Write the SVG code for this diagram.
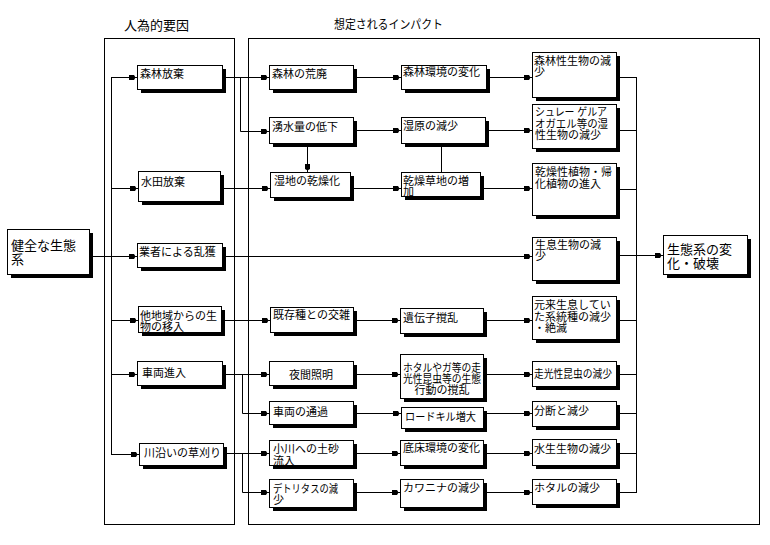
<svg xmlns="http://www.w3.org/2000/svg" width="770" height="545" viewBox="0 0 770 545">
<defs>
<marker id="ar" markerUnits="userSpaceOnUse" markerWidth="9" markerHeight="6" viewBox="0 0 9 6" refX="9" refY="3" orient="auto">
<path d="M1,0.5 H6 L7.5,3 L6,5.5 H1 Z" fill="#000"/>
</marker>
</defs>
<style>
.box{fill:#fff;stroke:#000;stroke-width:1}
.sh{fill:#000}
.pan{fill:none;stroke:#000;stroke-width:1}
.c{fill:none;stroke:#000;stroke-width:1}
.a{marker-end:url(#ar)}
text{font-family:"Liberation Sans","Noto Sans CJK JP",sans-serif;font-size:11px;fill:#000}
.big{font-size:13px}
.ttl{font-size:12px}
</style>
<rect width="770" height="545" fill="#fff"/>

<g id="panels">
<rect class="pan" x="104.5" y="38.5" width="130" height="486"/>
<rect class="pan" x="248.5" y="38.5" width="511" height="486"/>
<text class="big" x="124" y="30">人為的要因</text>
<text class="ttl" x="334" y="29" textLength="109" lengthAdjust="spacingAndGlyphs">想定されるインパクト</text>
</g>

<g id="connectors">
<path class="c a" d="M89,256.5 H137"/>
<path class="c" d="M111.5,77 V454"/>
<path class="c a" d="M111,77.5 H137"/>
<path class="c a" d="M111,188.5 H138"/>
<path class="c a" d="M111,320.5 H138"/>
<path class="c a" d="M111,374.5 H137"/>
<path class="c a" d="M111,454.5 H139"/>

<path class="c a" d="M222,77.5 H269"/>
<path class="c a" d="M240.5,78 V131.5 H269"/>
<path class="c a" d="M220,188.5 H270"/>
<path class="c a" d="M307.5,143 V172"/>
<path class="c a" d="M222,256.5 H532"/>
<path class="c a" d="M221,320.5 H270"/>
<path class="c a" d="M222,374.5 H269"/>
<path class="c a" d="M242.5,374 V413.5 H269"/>
<path class="c a" d="M223,453.5 H269"/>
<path class="c a" d="M242.5,453 V492.5 H269"/>

<path class="c a" d="M353,77.5 H401"/>
<path class="c a" d="M353,130.5 H401"/>
<path class="c a" d="M350,188.5 H401"/>
<path class="c" d="M441.5,143 V172"/>
<path class="c a" d="M353,320.5 H400"/>
<path class="c a" d="M353,374.5 H400"/>
<path class="c a" d="M353,413.5 H401"/>
<path class="c a" d="M353,453.5 H400"/>
<path class="c a" d="M353,492.5 H400"/>

<path class="c a" d="M486,77.5 H532"/>
<path class="c a" d="M485,130.5 H532"/>
<path class="c a" d="M480,188.5 H532"/>
<path class="c a" d="M483,320.5 H532"/>
<path class="c a" d="M483,374.5 H532"/>
<path class="c a" d="M483,413.5 H532"/>
<path class="c a" d="M483,453.5 H532"/>
<path class="c a" d="M483,492.5 H532"/>

<path class="c" d="M616,77.5 H636 M616,130.5 H636 M616,189.5 H636 M616,320.5 H636 M616,374.5 H636 M616,413.5 H636 M616,453.5 H636 M616,492.5 H636"/>
<path class="c" d="M636.5,77 V493"/>
<path class="c a" d="M616,255.5 H663"/>
</g>

<g id="n-kenzen">
<rect class="sh" x="11" y="233" width="82" height="45"/>
<rect class="box" x="7.5" y="229.5" width="82" height="45"/>
<text class="big" x="11" y="250">健全な生態<tspan x="11" dy="14">系</tspan></text>
</g>

<g id="n-shinrin-hoki">
<rect class="sh" x="141" y="69" width="85" height="24"/>
<rect class="box" x="137.5" y="65.5" width="85" height="24"/>
<text x="140" y="78">森林放棄</text>
</g>
<g id="n-suiden-hoki">
<rect class="sh" x="142" y="175" width="82" height="30"/>
<rect class="box" x="138.5" y="171.5" width="82" height="30"/>
<text x="141" y="186">水田放棄</text>
</g>
<g id="n-rankaku">
<rect class="sh" x="141" y="247" width="85" height="24"/>
<rect class="box" x="137.5" y="243.5" width="85" height="24"/>
<text x="139" y="256">業者による乱獲</text>
</g>
<g id="n-inyu">
<rect class="sh" x="142" y="310" width="83" height="26"/>
<rect class="box" x="138.5" y="306.5" width="83" height="26"/>
<text x="140" y="320">他地域からの生<tspan x="140" dy="11">物の移入</tspan></text>
</g>
<g id="n-sharyo-shinnyu">
<rect class="sh" x="141" y="365" width="85" height="24"/>
<rect class="box" x="137.5" y="361.5" width="85" height="24"/>
<text x="142" y="377">車両進入</text>
</g>
<g id="n-kusakari">
<rect class="sh" x="143" y="447" width="84" height="22"/>
<rect class="box" x="139.5" y="443.5" width="84" height="22"/>
<text x="144" y="457">川沿いの草刈り</text>
</g>

<g id="n-kohai">
<rect class="sh" x="273" y="69" width="84" height="24"/>
<rect class="box" x="269.5" y="65.5" width="84" height="24"/>
<text x="272" y="78">森林の荒廃</text>
</g>
<g id="n-yusui">
<rect class="sh" x="273" y="121" width="84" height="26"/>
<rect class="box" x="269.5" y="117.5" width="84" height="26"/>
<text x="272" y="131">湧水量の低下</text>
</g>
<g id="n-kansoka">
<rect class="sh" x="274" y="176" width="80" height="25"/>
<rect class="box" x="270.5" y="172.5" width="80" height="25"/>
<text x="274" y="185">湿地の乾燥化</text>
</g>
<g id="n-kozatsu">
<rect class="sh" x="274" y="311" width="83" height="25"/>
<rect class="box" x="270.5" y="307.5" width="83" height="25"/>
<text x="273" y="319">既存種との交雑</text>
</g>
<g id="n-yakan">
<rect class="sh" x="273" y="365" width="84" height="24"/>
<rect class="box" x="269.5" y="361.5" width="84" height="24"/>
<text x="311" y="379" text-anchor="middle">夜間照明</text>
</g>
<g id="n-tsuka">
<rect class="sh" x="273" y="405" width="84" height="23"/>
<rect class="box" x="269.5" y="401.5" width="84" height="23"/>
<text x="273" y="416">車両の通過</text>
</g>
<g id="n-dosha">
<rect class="sh" x="273" y="444" width="84" height="25"/>
<rect class="box" x="269.5" y="440.5" width="84" height="25"/>
<text x="273" y="453">小川への土砂<tspan x="273" dy="12">流入</tspan></text>
</g>
<g id="n-detritus">
<rect class="sh" x="273" y="483" width="84" height="28"/>
<rect class="box" x="269.5" y="479.5" width="84" height="28"/>
<text x="273" y="493"><tspan textLength="65" lengthAdjust="spacingAndGlyphs">デトリタスの減</tspan><tspan x="273" dy="11">少</tspan></text>
</g>

<g id="n-shinrin-kankyo">
<rect class="sh" x="405" y="69" width="85" height="24"/>
<rect class="box" x="401.5" y="65.5" width="85" height="24"/>
<text x="403" y="76">森林環境の変化</text>
</g>
<g id="n-shitsugen">
<rect class="sh" x="405" y="121" width="84" height="26"/>
<rect class="box" x="401.5" y="117.5" width="84" height="26"/>
<text x="403" y="130">湿原の減少</text>
</g>
<g id="n-kanso-sochi">
<rect class="sh" x="405" y="176" width="79" height="24"/>
<rect class="box" x="401.5" y="172.5" width="79" height="24"/>
<text x="403" y="185">乾燥草地の増<tspan x="403" dy="11">加</tspan></text>
</g>
<g id="n-idenshi">
<rect class="sh" x="404" y="312" width="83" height="25"/>
<rect class="box" x="400.5" y="308.5" width="83" height="25"/>
<text x="403" y="322">遺伝子撹乱</text>
</g>
<g id="n-hotaru-ga">
<rect class="sh" x="404" y="358" width="83" height="44"/>
<rect class="box" x="400.5" y="354.5" width="83" height="44"/>
<text text-anchor="middle"><tspan x="442" y="372" textLength="78" lengthAdjust="spacingAndGlyphs">ホタルやガ等の走</tspan><tspan x="442" y="383" textLength="78" lengthAdjust="spacingAndGlyphs">光性昆虫等の生態</tspan><tspan x="442" y="394">行動の撹乱</tspan></text>
</g>
<g id="n-roadkill">
<rect class="sh" x="405" y="411" width="82" height="21"/>
<rect class="box" x="401.5" y="407.5" width="82" height="21"/>
<text x="405" y="421" textLength="71" lengthAdjust="spacingAndGlyphs">ロードキル増大</text>
</g>
<g id="n-teisho">
<rect class="sh" x="404" y="444" width="83" height="25"/>
<rect class="box" x="400.5" y="440.5" width="83" height="25"/>
<text x="403" y="452">底床環境の変化</text>
</g>
<g id="n-kawanina">
<rect class="sh" x="404" y="483" width="83" height="28"/>
<rect class="box" x="400.5" y="479.5" width="83" height="28"/>
<text x="403" y="492">カワニナの減少</text>
</g>

<g id="n-shinrinsei">
<rect class="sh" x="536" y="56" width="84" height="45"/>
<rect class="box" x="532.5" y="52.5" width="84" height="45"/>
<text x="534" y="65">森林性生物の減<tspan x="534" dy="11">少</tspan></text>
</g>
<g id="n-schlegel">
<rect class="sh" x="536" y="108" width="84" height="44"/>
<rect class="box" x="532.5" y="104.5" width="84" height="44"/>
<text><tspan x="535" y="116" textLength="72" lengthAdjust="spacingAndGlyphs">シュレー ゲルア</tspan><tspan x="535" y="128" textLength="73" lengthAdjust="spacingAndGlyphs">オガエル等の湿</tspan><tspan x="535" y="139">性生物の減少</tspan></text>
</g>
<g id="n-kansosei">
<rect class="sh" x="536" y="167" width="84" height="52"/>
<rect class="box" x="532.5" y="163.5" width="84" height="52"/>
<text x="535" y="176">乾燥性植物・帰<tspan x="535" dy="12">化植物の進入</tspan></text>
</g>
<g id="n-seisoku">
<rect class="sh" x="536" y="241" width="84" height="43"/>
<rect class="box" x="532.5" y="237.5" width="84" height="43"/>
<text x="535" y="249">生息生物の減<tspan x="535" dy="11">少</tspan></text>
</g>
<g id="n-ganrai">
<rect class="sh" x="536" y="300" width="84" height="43"/>
<rect class="box" x="532.5" y="296.5" width="84" height="43"/>
<text x="534" y="309">元来生息してい<tspan x="534" dy="12">た系統種の減少</tspan><tspan x="534" dy="11">・絶滅</tspan></text>
</g>
<g id="n-sokosei">
<rect class="sh" x="536" y="365" width="84" height="25"/>
<rect class="box" x="532.5" y="361.5" width="84" height="25"/>
<text x="534" y="378" textLength="78" lengthAdjust="spacingAndGlyphs">走光性昆虫の減少</text>
</g>
<g id="n-bundan">
<rect class="sh" x="536" y="405" width="84" height="25"/>
<rect class="box" x="532.5" y="401.5" width="84" height="25"/>
<text x="534" y="415">分断と減少</text>
</g>
<g id="n-suisei">
<rect class="sh" x="536" y="443" width="84" height="26"/>
<rect class="box" x="532.5" y="439.5" width="84" height="26"/>
<text x="534" y="453">水生生物の減少</text>
</g>
<g id="n-hotaru">
<rect class="sh" x="536" y="483" width="84" height="25"/>
<rect class="box" x="532.5" y="479.5" width="84" height="25"/>
<text x="534" y="492">ホタルの減少</text>
</g>

<g id="n-hakai">
<rect class="sh" x="667" y="239" width="84" height="39"/>
<rect class="box" x="663.5" y="235.5" width="84" height="39"/>
<text class="big" x="667" y="254">生態系の変<tspan x="667" dy="14">化・破壊</tspan></text>
</g>
</svg>
